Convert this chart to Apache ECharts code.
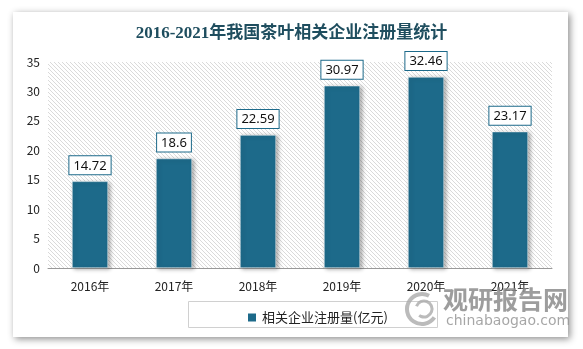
<!DOCTYPE html>
<html><head><meta charset="utf-8">
<script src="https://cdn.jsdelivr.net/npm/echarts@6/dist/echarts.min.js"></script>
<style>html,body{margin:0;padding:0;background:#fff}#c{width:583px;height:349px}</style>
</head><body><div id="c"></div>
<script>
const categories = ['2016年','2017年','2018年','2019年','2020年','2021年'];
const values = [14.72, 18.6, 22.59, 30.97, 32.46, 23.17];
const seriesName = '相关企业注册量(亿元)';
const titleText = '2016-2021年我国茶叶相关企业注册量统计';

const cv = document.createElement('canvas');
cv.width = 8; cv.height = 8;
const g = cv.getContext('2d');
g.fillStyle = '#fff'; g.fillRect(0,0,8,8);
g.strokeStyle = '#dadada'; g.lineWidth = 1;
for (let k = -8; k <= 8; k += 4) { g.beginPath(); g.moveTo(k,0); g.lineTo(k+8,8); g.stroke(); }

const chart = echarts.init(document.getElementById('c'));
const barColor = '#1d6a8a';
chart.setOption({
  animation: false,
  backgroundColor: '#fff',
  graphic: [
    {type:'rect', z:-10, shape:{x:13,y:12,width:555,height:325}, style:{fill:'#fff', shadowBlur:7, shadowOffsetX:2, shadowOffsetY:2, shadowColor:'rgba(0,0,0,0.45)'}},
    {type:'rect', z:-5, shape:{x:188.5,y:301.5,width:249,height:26}, style:{fill:'#fff', stroke:'#d0d0d0', lineWidth:1}},
    {type:'text', z:10, left:443, top:287, style:{text:'观研报告网', font:'bold 25px "Noto Sans CJK SC"', fill:'rgba(140,140,140,0.85)'}},
    {type:'text', z:10, left:446, top:314, style:{text:'chinabaogao.com', font:'14px "DejaVu Sans"', fill:'rgba(150,150,150,0.85)'}},
    {type:'arc', z:10, shape:{cx:422,cy:309,r:15,startAngle:0.6,endAngle:5.2}, style:{stroke:'rgba(170,170,170,0.8)', lineWidth:4, fill:null}},
    {type:'arc', z:10, shape:{cx:424,cy:309,r:8,startAngle:3.5,endAngle:8.5}, style:{stroke:'rgba(170,170,170,0.8)', lineWidth:3, fill:null}}
  ],
  title: {
    text: titleText, left: 'center', top: 20,
    textStyle: {fontFamily:'"Liberation Serif","Noto Sans CJK SC"', fontWeight:'bold', fontSize:17, color:'#1f4e5f'}
  },
  legend: {
    data:[seriesName], left:241, top:306, itemWidth:10, itemHeight:10, itemGap:6,
    icon:'rect', textStyle:{fontSize:13, color:'#222', fontFamily:'"Noto Sans CJK SC"'}
  },
  grid: {left:48, right:31, top:62, bottom:81, show:true, borderWidth:0,
    backgroundColor:{image:cv, repeat:'repeat'}},
  xAxis: {
    type:'category', data:categories,
    axisLine:{lineStyle:{color:'#999'}}, axisTick:{show:false},
    axisLabel:{color:'#222', fontSize:12, margin:12, fontFamily:'"Noto Sans CJK SC"'}
  },
  yAxis: {
    type:'value', min:0, max:35, interval:5,
    axisLine:{show:false}, axisTick:{show:false}, splitLine:{show:false},
    axisLabel:{color:'#222', fontSize:12, margin:8, fontFamily:'"Noto Sans CJK SC"'}
  },
  series: [{
    name: seriesName, type:'bar', data: values, barWidth:36,
    itemStyle:{color:barColor, borderColor:'#fff', borderWidth:0.5, shadowBlur:4, shadowOffsetX:2, shadowOffsetY:1, shadowColor:'rgba(0,0,0,0.35)'},
    label:{show:true, position:'top', distance:7, color:'#111', fontSize:13,
      fontFamily:'"Noto Sans","DejaVu Sans"',
      backgroundColor:'#fff', borderColor:barColor, borderWidth:1, padding:[3,4,2,4]}
  }]
});
</script></body></html>
